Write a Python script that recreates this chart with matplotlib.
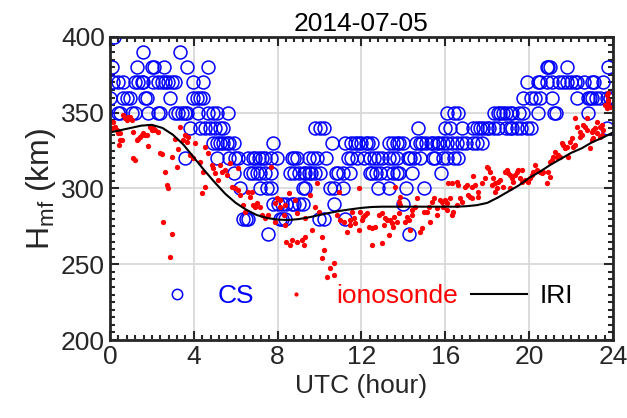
import matplotlib
matplotlib.use("Agg")
import matplotlib.pyplot as plt
from matplotlib.ticker import MultipleLocator

plt.rcParams['font.family'] = ['Liberation Sans', 'DejaVu Sans']
plt.rcParams['font.size'] = 19

# CS hmf: each row is (height level in km, list of UTC hours)
cs_rows = [
    (400, [0.2]),
    (390, [1.58, 3.34]),
    (380, [0.1, 1.29, 2.0, 2.1, 2.58, 3.67, 4.68, 20.85, 20.9, 21.0, 21.8, 23.76]),
    (370, [0.14, 0.38, 0.62, 1.19, 1.34, 1.53, 1.57, 2.05, 2.29, 2.48, 2.62, 2.77, 2.96, 3.1,
           3.96, 4.44, 19.9, 20.4, 20.5, 20.85, 21.1, 21.4, 21.6, 21.8, 22.0, 22.2, 22.3,
           22.6, 23.0, 23.1, 23.5]),
    (360, [0.0, 0.62, 0.81, 0.95, 1.67, 1.77, 2.86, 3.96, 4.15, 4.29, 4.44, 19.7, 20.1, 20.3,
           20.5, 21.1, 22.3, 22.8, 22.9, 23.0, 23.2, 23.4, 23.7, 23.85]),
    (350, [0.38, 0.48, 1.05, 1.19, 1.81, 2.29, 2.39, 3.1, 3.24, 3.43, 3.58, 3.67, 4.2, 4.68,
           4.91, 5.1, 5.63, 16.1, 16.4, 16.6, 18.3, 18.5, 18.6, 18.75, 18.9, 19.1, 19.2,
           19.5, 19.7, 20.4, 21.2, 21.3, 22.8]),
    (340, [3.82, 4.29, 4.53, 4.77, 5.0, 5.25, 5.4, 9.8, 10.0, 10.2, 14.7, 16.0, 16.2, 16.8,
           17.3, 17.5, 17.65, 17.8, 18.0, 18.1, 18.3, 18.5, 18.9, 19.1, 19.2, 19.4, 19.6,
           19.9, 20.1, 23.7]),
    (330, [4.9, 5.1, 5.25, 5.4, 5.6, 5.7, 5.9, 7.8, 10.6, 11.2, 11.5, 11.7, 11.85, 12.0,
           12.2, 12.3, 12.5, 13.3, 13.5, 13.7, 13.8, 14.0, 14.6, 14.8, 14.9, 15.1, 15.3,
           15.4, 15.6, 15.7, 15.9, 16.1, 16.3, 16.55, 16.8, 17.0, 17.3, 17.5, 17.75]),
    (320, [3.6, 5.1, 5.7, 5.96, 6.1, 6.6, 6.8, 6.9, 7.1, 7.25, 7.4, 7.7, 7.95, 8.7, 8.8,
           8.9, 9.5, 9.7, 9.9, 10.3, 11.35, 11.5, 11.8, 12.1, 12.4, 12.6, 12.8, 13.0, 13.3,
           13.5, 13.7, 14.2, 14.3, 14.5, 14.8, 15.4, 15.5, 15.9, 16.1, 16.4, 16.6]),
    (310, [5.9, 6.7, 6.8, 7.0, 7.15, 7.4, 7.7, 8.6, 8.8, 9.0, 9.25, 9.3, 9.5, 9.6, 9.8,
           10.0, 10.8, 10.9, 11.1, 11.45, 12.4, 12.5, 12.7, 12.9, 13.2, 13.5, 13.7, 13.8,
           14.4, 15.8]),
    (300, [6.2, 7.15, 7.5, 7.7, 9.2, 9.3, 10.5, 10.7, 11.1, 12.8, 13.3, 14.1, 15.0]),
    (290, [7.8, 8.0, 8.2, 8.4, 8.7, 8.8, 9.0, 9.2, 10.7, 14.0]),
    (280, [6.35, 6.5, 6.6, 8.1, 8.2, 8.35, 9.97, 10.2, 11.2]),
    (270, [7.55, 14.25]),
]

# ionosonde hmf
iono_hour = [0.08, 0.16, 0.24, 0.32, 0.40, 0.43, 0.48, 0.48, 0.56, 0.64, 0.72, 0.80, 0.87,
             0.95, 1.03, 1.11, 1.11, 1.19, 1.27, 1.35, 1.43, 1.51, 1.59, 1.67, 1.75, 1.83,
             1.91, 1.99, 2.07, 2.15, 2.31, 2.39, 2.47, 2.54, 2.62, 2.70, 2.78, 2.86, 2.94,
             2.94, 3.10, 3.18, 3.26, 3.34, 3.50, 3.58, 3.66, 3.74, 3.82, 3.98, 4.06, 4.29,
             4.37, 4.45, 4.53, 4.53, 4.69, 4.85, 4.93, 5.01, 5.17, 5.25, 5.33, 5.49, 5.57,
             5.73, 5.81, 5.96, 6.12, 6.12, 6.20, 6.36, 6.44, 6.60, 6.68, 6.76, 6.84, 6.92,
             7.00, 7.16, 7.24, 7.40, 7.55, 7.68, 7.87, 7.87, 7.97, 8.13, 8.13, 8.29, 8.37,
             8.37, 8.53, 8.84, 8.92, 8.40, 8.60, 8.68, 8.92, 9.16, 9.24, 9.32, 9.32, 9.56,
             9.64, 9.80, 9.88, 9.96, 10.10, 10.20, 10.10, 10.35, 10.50, 10.67, 10.67, 10.83,
             10.91, 10.99, 11.15, 11.31, 11.45, 11.47, 11.55, 11.63, 11.70, 11.87, 11.87,
             11.94, 12.02, 12.08, 12.18, 12.25, 12.34, 12.50, 12.50, 12.66, 12.82, 12.98,
             12.98, 13.06, 13.12, 13.22, 13.30, 13.37, 13.45, 13.53, 13.52, 13.60, 13.69,
             13.77, 13.85, 13.77, 13.85, 14.09, 14.17, 14.25, 14.33, 14.41, 14.41, 14.57,
             14.65, 14.80, 14.89, 14.97, 15.12, 15.20, 15.27, 15.36, 15.44, 15.58, 15.60,
             15.76, 15.84, 15.90, 15.98, 16.06, 16.06, 16.14, 16.22, 16.30, 16.30, 16.38,
             16.54, 16.54, 16.62, 16.70, 16.78, 16.94, 17.02, 17.10, 17.18, 17.26, 17.26,
             17.33, 17.41, 17.57, 17.57, 17.73, 17.89, 17.97, 18.05, 18.13, 18.21, 18.29,
             18.37, 18.37, 18.45, 18.53, 18.61, 18.77, 18.85, 18.93, 19.00, 19.08, 19.08,
             19.16, 19.24, 19.32, 19.40, 19.48, 19.56, 19.64, 19.64, 19.80, 19.96, 20.04,
             20.12, 20.20, 20.28, 20.36, 20.52, 20.60, 20.68, 20.83, 20.92, 20.99, 20.99,
             21.07, 21.15, 21.23, 21.31, 21.39, 21.47, 21.55, 21.63, 21.71, 21.79, 21.87,
             21.95, 22.03, 22.11, 22.19, 22.19, 22.27, 22.42, 22.42, 22.50, 22.58, 22.66,
             22.74, 22.74, 22.90, 22.98, 22.98, 23.06, 23.06, 23.14, 23.22, 23.22, 23.38,
             23.38, 23.46, 23.46, 23.54, 23.62, 23.70, 23.70, 23.77, 23.77, 23.85, 23.77]
iono_hmf = [340.0, 344.1, 340.8, 338.6, 336.4, 328.7, 332.0, 336.4, 332.0, 348.5, 346.3, 345.2,
            347.4, 347.4, 345.2, 337.5, 319.9, 318.5, 332.0, 333.0, 334.2, 335.3, 336.4,
            335.3, 335.3, 328.0, 340.8, 338.6, 339.7, 338.6, 337.5, 323.2, 322.6, 277.7,
            311.1, 302.3, 300.5, 255.0, 270.0, 321.0, 333.0, 314.4, 326.0, 340.8, 332.0,
            335.3, 330.9, 334.2, 322.0, 320.0, 329.8, 317.7, 296.8, 311.0, 327.6, 301.0,
            323.2, 315.5, 313.3, 310.0, 305.6, 315.5, 311.1, 312.2, 308.9, 316.6, 301.2,
            300.1, 313.3, 299.0, 295.7, 289.1, 284.7, 297.9, 294.6, 297.9, 289.1, 288.0,
            290.2, 288.0, 282.5, 280.3, 282.5, 314.4, 278.1, 290.2, 293.5, 292.4, 288.0,
            282.5, 289.0, 275.9, 296.8, 292.4, 283.6, 264.9, 262.7, 266.0, 264.9, 266.0,
            262.7, 268.2, 280.3, 295.7, 272.6, 288.0, 303.4, 284.7, 268.2, 259.4, 253.9,
            241.8, 247.3, 250.6, 242.9, 282.5, 297.9, 279.2, 278.1, 271.5, 279.2, 275.9,
            284.7, 280.3, 277.0, 272.6, 300.1, 284.7, 279.2, 281.4, 282.5, 283.6, 274.8,
            263.0, 273.7, 274.8, 282.5, 283.6, 263.8, 275.9, 280.3, 279.2, 269.3, 279.2,
            277.0, 281.4, 274.8, 301.2, 278.1, 283.6, 289.0, 291.3, 294.6, 278.1, 281.4,
            279.2, 272.6, 282.5, 285.8, 288.0, 293.5, 271.5, 273.7, 284.7, 284.7, 288.0,
            278.1, 291.3, 293.5, 286.9, 282.5, 292.4, 291.3, 288.0, 292.4, 290.2, 285.8,
            303.4, 293.5, 303.4, 282.5, 284.7, 304.5, 289.0, 302.3, 293.5, 291.3, 301.2,
            302.3, 295.7, 294.6, 301.2, 293.5, 308.0, 302.3, 294.6, 297.9, 303.4, 307.0,
            314.4, 313.3, 311.1, 302.3, 306.7, 297.9, 303.4, 300.1, 304.5, 305.6, 301.2,
            311.1, 312.2, 310.0, 300.1, 308.9, 306.7, 304.5, 308.9, 311.1, 312.2, 306.7,
            312.2, 304.5, 305.6, 304.5, 306.7, 308.9, 311.1, 315.5, 312.2, 311.1, 310.0,
            311.1, 303.4, 311.1, 307.8, 317.7, 318.8, 321.0, 324.3, 321.0, 322.1, 321.0,
            329.8, 328.7, 326.5, 327.6, 321.0, 330.9, 333.1, 327.6, 328.7, 346.3, 340.8,
            334.2, 337.5, 335.3, 341.9, 340.8, 346.3, 338.6, 326.5, 332.0, 337.5, 333.1,
            338.6, 339.7, 344.1, 336.4, 334.2, 340.8, 341.9, 335.3, 338.6, 355.1, 352.9,
            361.7, 356.2, 362.8, 353.9, 358.4]

# IRI model hmf
iri_hour = [0, 0.5, 1, 1.5, 2, 2.5, 3, 3.5, 4, 4.5, 5, 5.5, 6, 6.5, 7, 7.5, 8, 8.5, 9, 9.5,
            10, 10.5, 11, 11.5, 12, 12.5, 13, 13.5, 14, 14.5, 15, 15.5, 16, 16.5, 17, 17.5,
            18, 18.5, 19, 19.5, 20, 20.5, 21, 21.5, 22, 22.5, 23, 23.5, 24]
iri_hmf = [337, 338.5, 340, 341.5, 342, 340, 335.5, 329, 320.5, 312, 304, 296.5, 290.5,
           286, 282.5, 280.5, 279.5, 279.2, 279.8, 281, 282.5, 284, 285.3, 286.3, 287.2,
           287.8, 288, 288, 288, 288, 288, 288, 288, 288, 288.3, 289, 290.5, 294, 298, 302,
           307, 311, 315.5, 319.5, 323.5, 326.5, 330.5, 333.5, 337]

cs_hour = [t for lev, hrs in cs_rows for t in hrs]
cs_hmf = [lev for lev, hrs in cs_rows for t in hrs]

dark = '#262626'
fig = plt.figure(figsize=(6.27, 4.18), dpi=100)
ax = fig.add_axes([0.1754, 0.1866, 0.8023, 0.7249])

ax.plot(cs_hour, cs_hmf, 'o', mfc='none', mec='blue', ms=9.3, mew=1.1, label='CS')
ax.plot(iono_hour, iono_hmf, 'o', color='red', mec='none', ms=3.8, label='ionosonde')
ax.plot(iri_hour, iri_hmf, '-', color='black', lw=1.5, label='IRI')

ax.set_xlim(0, 24)
ax.set_ylim(200, 400)
ax.xaxis.set_major_locator(MultipleLocator(4))
ax.xaxis.set_minor_locator(MultipleLocator(0.4))
ax.yaxis.set_major_locator(MultipleLocator(50))
ax.yaxis.set_minor_locator(MultipleLocator(5))
ax.grid(True, which='major', color='#d9d9d9', lw=1.3)
ax.set_axisbelow(True)
ax.tick_params(which='both', direction='in', top=True, right=True, colors=dark,
               labelsize=19, width=1.5)
ax.tick_params(which='major', length=6.5)
ax.tick_params(which='minor', length=3.5)
for s in ax.spines.values():
    s.set_linewidth(2)
    s.set_color(dark)

ax.set_xlabel('UTC (hour)', color=dark, labelpad=4)
ax.set_ylabel('H$_{\\mathregular{mf}}$ (km)', color=dark, fontsize=23, labelpad=2)
ax.set_title('2014-07-05', color='black', fontsize=19, pad=4)

leg = ax.legend(loc='center', bbox_to_anchor=(0.5, 0.145), ncol=3, frameon=False,
                handlelength=2.1, handletextpad=0.5, columnspacing=0.5, markerscale=0.8,
                borderaxespad=0)
for txt, col in zip(leg.get_texts(), ['blue', 'red', 'black']):
    txt.set_color(col)

fig.savefig('out.png', dpi=100)
